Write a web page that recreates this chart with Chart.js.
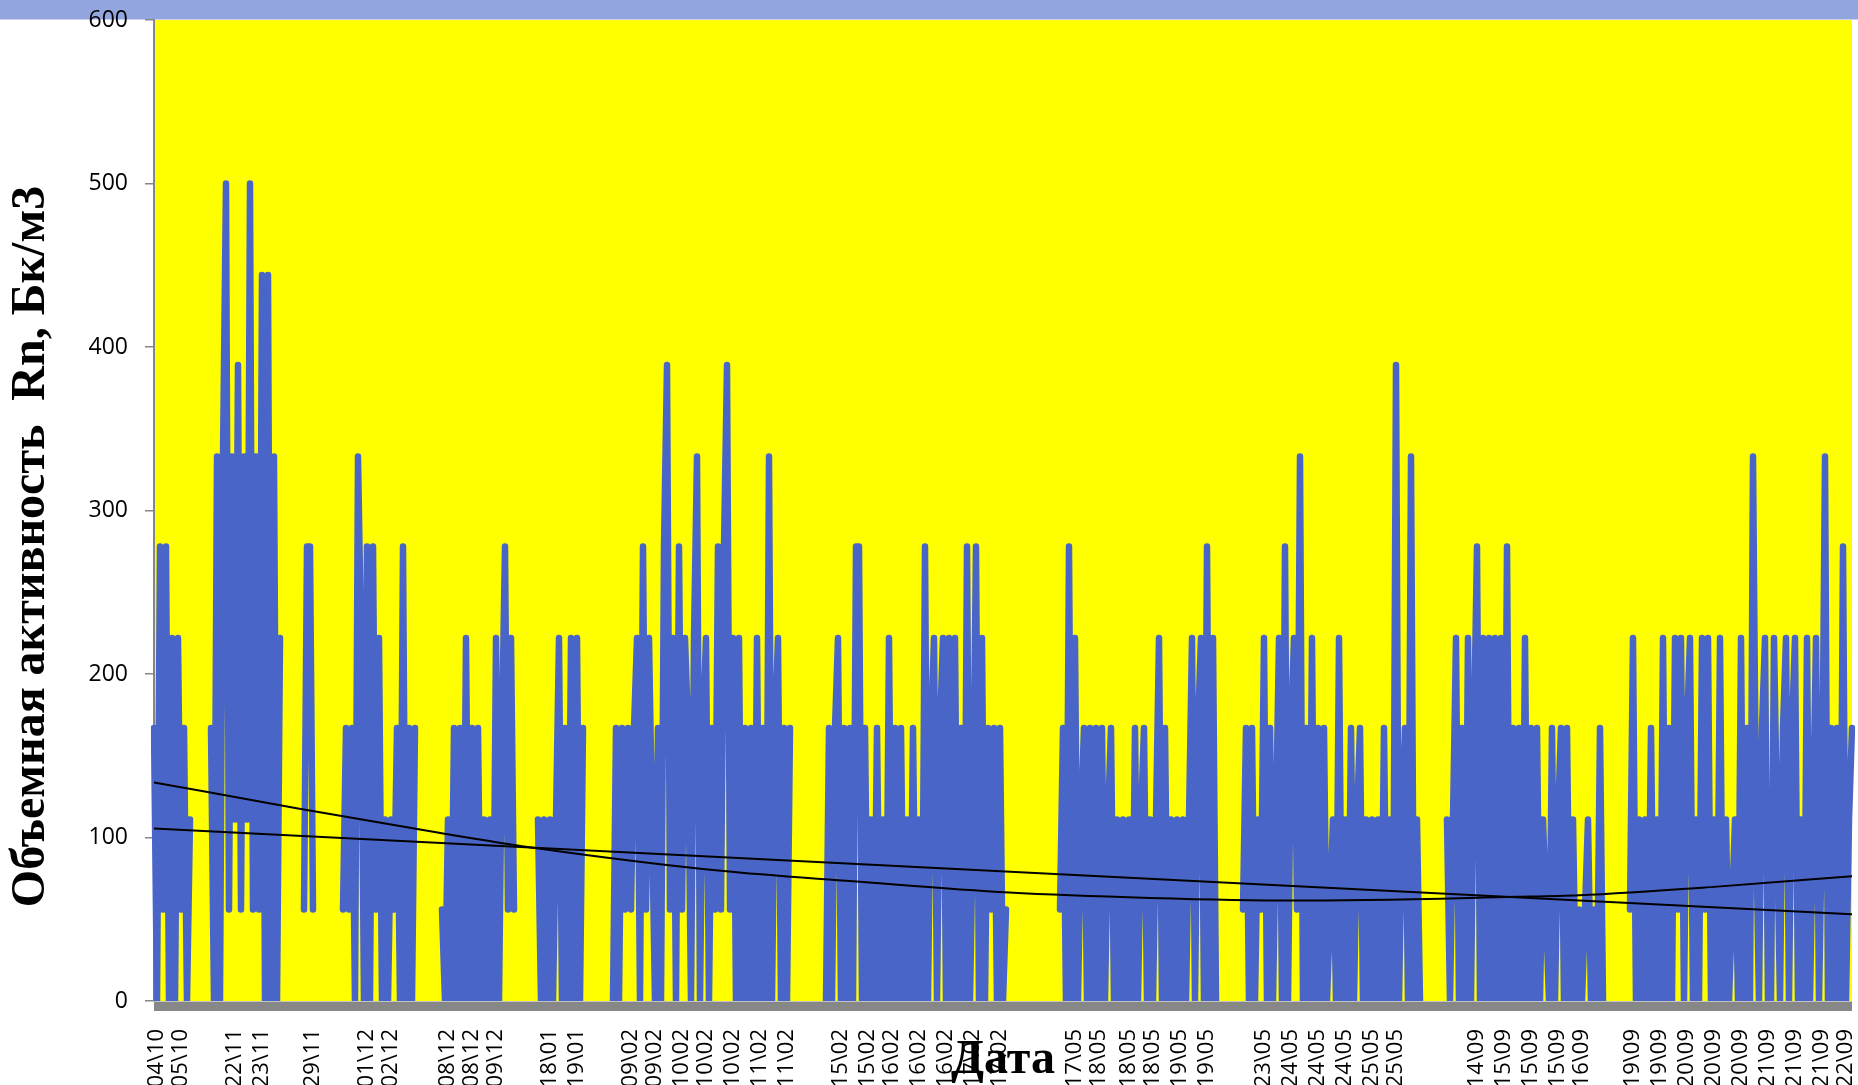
<!DOCTYPE html>
<html><head><meta charset="utf-8">
<script src="https://cdn.jsdelivr.net/npm/chart.js@4.4.0/dist/chart.umd.min.js"></script>
<style>html,body{margin:0;padding:0;background:#fff;overflow:hidden}#wrap{width:1858px;height:1085px;position:relative}</style>
</head><body><div id="wrap"><canvas id="c" width="1858" height="1085"></canvas></div>
<script>
// Radon volume activity, Bq/m3 (null = no measurement)
const radonValues = [
167,0,278,56,278,0,222,0,222,56,
167,0,111,null,null,null,null,null,null,167,
0,333,0,333,500,56,333,111,389,56,
333,111,500,56,333,56,444,0,444,0,
333,0,222,null,null,null,null,null,null,null,
56,278,278,56,null,null,null,null,null,null,
null,null,null,56,167,56,167,0,333,222,
0,278,0,278,56,222,0,111,0,111,
56,167,0,278,0,167,0,167,null,null,
null,null,null,null,null,null,56,0,111,0,
167,0,167,0,222,0,167,0,167,0,
111,0,111,0,222,0,167,278,56,222,
56,null,null,null,null,null,null,null,111,0,
111,0,111,0,111,222,0,167,0,222,
0,222,0,167,null,null,null,null,null,null,
null,null,null,0,167,0,167,56,167,56,
167,222,0,278,56,222,111,0,167,0,
278,389,56,222,0,278,56,222,167,0,
222,333,0,167,222,0,167,56,278,56,
278,389,56,222,0,222,0,167,0,167,
0,222,0,167,0,333,0,167,222,0,
167,0,167,null,null,null,null,null,null,null,
null,null,null,null,0,167,0,167,222,0,
167,0,167,0,278,278,0,167,0,111,
0,167,0,111,0,222,0,167,0,167,
0,111,0,167,0,111,0,278,0,167,
222,0,167,222,0,222,0,222,0,167,
0,278,0,111,278,0,222,0,167,56,
167,0,167,0,56,null,null,null,null,null,
null,null,null,null,null,null,null,null,null,null,
null,null,56,167,0,278,0,222,0,111,
167,0,167,0,167,0,167,0,111,167,
0,111,0,111,0,111,0,167,0,111,
167,0,111,0,111,222,0,167,0,111,
0,111,0,111,0,111,222,0,167,222,
0,278,0,222,0,null,null,null,null,null,
null,null,null,56,167,0,167,0,111,56,
222,0,167,0,111,222,0,278,0,167,
222,56,333,0,167,0,222,0,167,0,
167,0,56,111,0,222,0,111,0,167,
0,111,167,0,111,0,111,0,111,0,
167,0,111,0,389,0,111,167,0,333,
0,111,0,null,null,null,null,null,null,null,
null,111,0,111,222,0,167,0,222,0,
167,278,0,222,0,222,0,222,0,222,
0,278,0,167,0,167,0,222,0,167,
0,167,0,111,56,0,167,0,111,167,
0,167,0,111,0,56,0,56,111,0,
56,0,167,0,null,null,null,null,null,null,
null,null,56,222,0,111,0,111,0,167,
0,111,0,222,0,167,0,222,56,222,
0,167,222,0,111,0,222,56,222,0,
111,0,222,0,111,0,56,111,0,222,
0,167,0,333,111,0,167,222,0,0,
222,111,0,167,222,0,167,222,0,111,
0,222,0,111,222,0,111,333,0,167,
0,167,0,278,0,111,167
];

// Dates shown on the category axis, and the sample index each one belongs to
const dateLabels = ["04\\10","05\\10","22\\11","23\\11","29\\11","01\\12","02\\12","08\\12","08\\12","09\\12",
"18\\01","19\\01","09\\02","09\\02","10\\02","10\\02","10\\02","11\\02","11\\02","15\\02",
"15\\02","16\\02","16\\02","16\\02","17\\02","17\\02","17\\05","18\\05","18\\05","18\\05",
"19\\05","19\\05","23\\05","24\\05","24\\05","24\\05","25\\05","25\\05","14\\09","15\\09",
"15\\09","15\\09","16\\09","19\\09","19\\09","20\\09","20\\09","20\\09","21\\09","21\\09",
"21\\09","22\\09"];
const dateLabelSample = [1,9,27,36,53,71,79,98,106,114,
132,141,159,167,176,184,193,202,211,229,
238,246,255,264,273,282,307,315,325,333,
342,351,370,379,388,397,406,414,441,450,
459,468,476,493,502,511,520,529,538,547,
556,564];

const yTickValues = [0,100,200,300,400,500,600];

// Trend lines: [sample index, value]
const linearTrend = [[0,105.5],[566,53]];
const polyTrend = [[0,133.7],[48,117.8],[95,102.9],[127,93.6],[189,79.6],[233,73.2],[285,66.3],[332,63],[380,61.4],[454,63.7],[475,64.7],[520,69.8],[566,76.3]];

const categories = radonValues.map(() => '');
dateLabelSample.forEach((s, k) => { categories[s] = dateLabels[k]; });
const lastSample = radonValues.length - 1;

const bgPlugin = {
  id: 'bg',
  beforeDraw(chart) {
    const {ctx, chartArea: a} = chart;
    ctx.save();
    ctx.fillStyle = '#93A5DF';
    ctx.fillRect(0, 0, chart.width, 19.5);
    ctx.fillStyle = '#FFFF00';
    ctx.fillRect(a.left, a.top, a.right - a.left, a.bottom - a.top);
    ctx.restore();
  },
  afterDatasetsDraw(chart) {
    const {ctx, chartArea: a} = chart;
    ctx.save();
    ctx.fillStyle = '#878787';
    ctx.fillRect(a.left, a.bottom + 0.5, a.right - a.left, 9.5);
    ctx.restore();
  }
};

const serif = "'Liberation Serif', 'Times New Roman', serif";
const sans = "'Open Sans', 'Liberation Sans', sans-serif";

new Chart(document.getElementById('c'), {
  type: 'line',
  data: {
    labels: categories,
    datasets: [
      {
        label: 'Линейный тренд', xAxisID: 'xt', order: 0,
        data: linearTrend.map(([x, y]) => ({x, y})),
        borderColor: '#000', borderWidth: 2, pointRadius: 0
      },
      {
        label: 'Полиномиальный тренд', xAxisID: 'xt', order: 0,
        data: polyTrend.map(([x, y]) => ({x, y})),
        borderColor: '#000', borderWidth: 2, pointRadius: 0,
        cubicInterpolationMode: 'monotone'
      },
      {
        label: 'Rn', xAxisID: 'x', order: 1,
        data: radonValues,
        borderColor: '#4A65C8', borderWidth: 6.5, pointRadius: 0,
        borderJoinStyle: 'round', borderCapStyle: 'round',
        spanGaps: false, tension: 0
      }
    ]
  },
  options: {
    responsive: false, animation: false, devicePixelRatio: 1,
    layout: {padding: {top: 20, right: 6, left: 0, bottom: 0}},
    plugins: {legend: {display: false}, tooltip: {enabled: false}},
    scales: {
      x: {
        type: 'category', offset: false,
        grid: {display: false}, border: {display: false},
        ticks: {autoSkip: false, maxRotation: 90, minRotation: 90, padding: 20,
                color: '#000', font: {family: sans, size: 22}},
        title: {display: true, text: 'Дата', color: '#000', padding: 0,
                font: {family: serif, size: 48, weight: 'bold', lineHeight: 1}},
        afterFit(s) { s.height = 84; s.paddingLeft = 0; s.paddingRight = 0; }
      },
      xt: {type: 'linear', display: false, min: 0, max: lastSample},
      y: {
        min: 0, max: 600,
        afterBuildTicks(s) { s.ticks = yTickValues.map(v => ({value: v})); },
        ticks: {padding: 17, color: '#000', font: {family: sans, size: 23}},
        grid: {drawOnChartArea: false, drawTicks: true, tickLength: 9, color: '#868686', lineWidth: 1.5},
        border: {display: true, color: '#868686', width: 2},
        title: {display: true, text: 'Объемная активность  Rn, Бк/м3      ', color: '#000',
                padding: {top: 8, bottom: 0},
                font: {family: serif, size: 48, weight: 'bold', lineHeight: 1}},
        afterFit(s) { s.width = 154; s.paddingTop = 0; s.paddingBottom = 0; }
      }
    }
  },
  plugins: [bgPlugin]
});
</script>
</body></html>
